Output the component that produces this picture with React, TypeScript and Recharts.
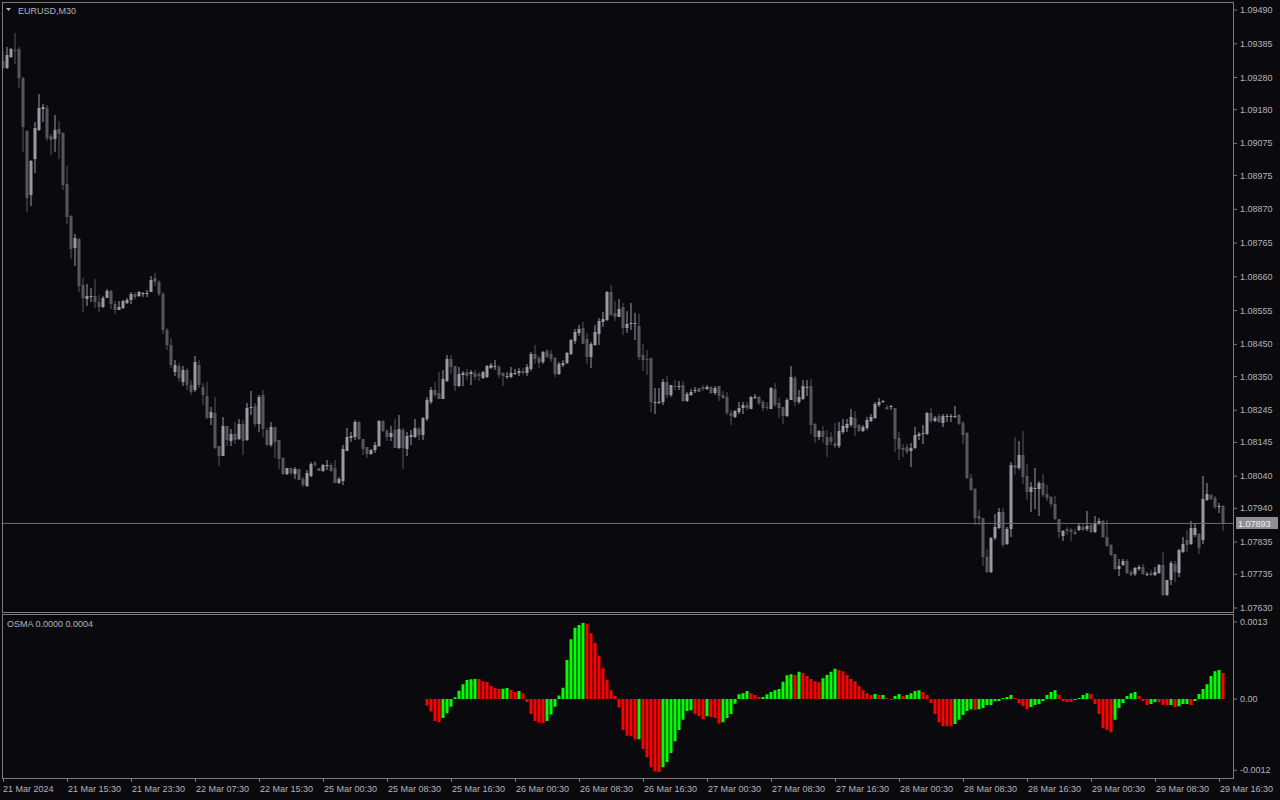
import React from 'react';
import { ComposedChart, Bar, XAxis, YAxis, ReferenceLine, Cell } from 'recharts';

// EURUSD M30, 21 Mar 2024 07:30 .. 29 Mar 2024 17:00 (306 bars)
const opens = [
  1.09332, 1.09310, 1.09344, 1.09366, 1.09369, 1.09278, 1.09114, 1.08914, 1.09027, 1.09117,
  1.09182, 1.09185, 1.09098, 1.09089, 1.09120, 1.09108, 1.08948, 1.08849, 1.08750, 1.08778,
  1.08634, 1.08591, 1.08596, 1.08600, 1.08582, 1.08566, 1.08594, 1.08616, 1.08576, 1.08557,
  1.08563, 1.08579, 1.08588, 1.08607, 1.08600, 1.08608, 1.08608, 1.08613, 1.08656, 1.08644,
  1.08607, 1.08495, 1.08448, 1.08364, 1.08383, 1.08333, 1.08370, 1.08323, 1.08308, 1.08386,
  1.08317, 1.08289, 1.08221, 1.08237, 1.08134, 1.08103, 1.08196, 1.08150, 1.08172, 1.08156,
  1.08203, 1.08153, 1.08255, 1.08258, 1.08203, 1.08292, 1.08184, 1.08138, 1.08193, 1.08153,
  1.08097, 1.08047, 1.08066, 1.08047, 1.08062, 1.08031, 1.08009, 1.08040, 1.08082, 1.08066,
  1.08056, 1.08075, 1.08075, 1.08066, 1.08019, 1.08025, 1.08119, 1.08159, 1.08162, 1.08209,
  1.08156, 1.08131, 1.08109, 1.08122, 1.08134, 1.08212, 1.08181, 1.08162, 1.08184, 1.08128,
  1.08184, 1.08125, 1.08162, 1.08162, 1.08187, 1.08168, 1.08218, 1.08271, 1.08308, 1.08299,
  1.08280, 1.08336, 1.08405, 1.08383, 1.08320, 1.08355, 1.08364, 1.08358, 1.08361, 1.08358,
  1.08345, 1.08348, 1.08377, 1.08381, 1.08380, 1.08361, 1.08351, 1.08348, 1.08360, 1.08361,
  1.08367, 1.08361, 1.08373, 1.08420, 1.08408, 1.08395, 1.08430, 1.08420, 1.08408, 1.08358,
  1.08386, 1.08392, 1.08420, 1.08461, 1.08486, 1.08501, 1.08467, 1.08411, 1.08448, 1.08483,
  1.08520, 1.08526, 1.08613, 1.08548, 1.08535, 1.08566, 1.08501, 1.08514, 1.08515, 1.08508,
  1.08417, 1.08405, 1.08408, 1.08271, 1.08268, 1.08271, 1.08333, 1.08292, 1.08320, 1.08317,
  1.08323, 1.08274, 1.08292, 1.08305, 1.08314, 1.08317, 1.08311, 1.08317, 1.08299, 1.08320,
  1.08292, 1.08286, 1.08237, 1.08224, 1.08240, 1.08252, 1.08262, 1.08249, 1.08283, 1.08286,
  1.08271, 1.08255, 1.08249, 1.08311, 1.08268, 1.08255, 1.08227, 1.08277, 1.08345, 1.08271,
  1.08280, 1.08314, 1.08320, 1.08203, 1.08162, 1.08181, 1.08162, 1.08162, 1.08144, 1.08134,
  1.08178, 1.08190, 1.08199, 1.08221, 1.08199, 1.08181, 1.08190, 1.08212, 1.08221, 1.08262,
  1.08271, 1.08255, 1.08255, 1.08252, 1.08159, 1.08128, 1.08131, 1.08119, 1.08128, 1.08165,
  1.08172, 1.08172, 1.08237, 1.08212, 1.08227, 1.08206, 1.08226, 1.08226, 1.08227, 1.08230,
  1.08206, 1.08175, 1.08034, 1.08000, 1.07916, 1.07910, 1.07789, 1.07742, 1.07848, 1.07879,
  1.07929, 1.07829, 1.07876, 1.08075, 1.08066, 1.08106, 1.08040, 1.07991, 1.08000, 1.08000,
  1.08019, 1.07985, 1.07975, 1.07954, 1.07907, 1.07854, 1.07876, 1.07873, 1.07866, 1.07873,
  1.07882, 1.07876, 1.07888, 1.07866, 1.07891, 1.07901, 1.07851, 1.07826, 1.07798, 1.07751,
  1.07764, 1.07776, 1.07742, 1.07736, 1.07751, 1.07758, 1.07735, 1.07739, 1.07733, 1.07739,
  1.07764, 1.07670, 1.07717, 1.07767, 1.07739, 1.07804, 1.07842, 1.07829, 1.07857, 1.07860,
  1.07842, 1.07966, 1.07982, 1.07972, 1.07944, 1.07947,
];

const highs = [
  1.09363, 1.09375, 1.09372, 1.09419, 1.09375, 1.09281, 1.09117, 1.09024, 1.09142, 1.09229,
  1.09198, 1.09195, 1.09105, 1.09163, 1.09145, 1.09111, 1.09005, 1.08852, 1.08794, 1.08781,
  1.08656, 1.08638, 1.08625, 1.08653, 1.08603, 1.08600, 1.08622, 1.08619, 1.08585, 1.08585,
  1.08588, 1.08594, 1.08613, 1.08613, 1.08616, 1.08613, 1.08619, 1.08662, 1.08672, 1.08650,
  1.08613, 1.08501, 1.08470, 1.08402, 1.08392, 1.08383, 1.08377, 1.08339, 1.08414, 1.08402,
  1.08330, 1.08333, 1.08255, 1.08286, 1.08134, 1.08224, 1.08196, 1.08187, 1.08209, 1.08218,
  1.08215, 1.08268, 1.08305, 1.08268, 1.08292, 1.08308, 1.08190, 1.08209, 1.08193, 1.08153,
  1.08100, 1.08066, 1.08066, 1.08069, 1.08062, 1.08037, 1.08059, 1.08084, 1.08088, 1.08066,
  1.08079, 1.08091, 1.08082, 1.08091, 1.08037, 1.08137, 1.08190, 1.08178, 1.08215, 1.08212,
  1.08156, 1.08131, 1.08125, 1.08147, 1.08215, 1.08215, 1.08187, 1.08196, 1.08218, 1.08230,
  1.08190, 1.08178, 1.08184, 1.08218, 1.08193, 1.08224, 1.08286, 1.08317, 1.08333, 1.08364,
  1.08370, 1.08417, 1.08417, 1.08383, 1.08380, 1.08367, 1.08373, 1.08370, 1.08370, 1.08364,
  1.08367, 1.08386, 1.08392, 1.08402, 1.08386, 1.08364, 1.08364, 1.08380, 1.08373, 1.08377,
  1.08377, 1.08389, 1.08427, 1.08448, 1.08414, 1.08430, 1.08436, 1.08433, 1.08411, 1.08395,
  1.08402, 1.08427, 1.08467, 1.08498, 1.08510, 1.08520, 1.08486, 1.08458, 1.08510, 1.08532,
  1.08551, 1.08616, 1.08634, 1.08585, 1.08591, 1.08579, 1.08554, 1.08579, 1.08548, 1.08545,
  1.08451, 1.08433, 1.08408, 1.08314, 1.08314, 1.08342, 1.08351, 1.08323, 1.08339, 1.08336,
  1.08336, 1.08302, 1.08311, 1.08317, 1.08314, 1.08323, 1.08323, 1.08320, 1.08320, 1.08320,
  1.08305, 1.08302, 1.08246, 1.08246, 1.08271, 1.08271, 1.08271, 1.08289, 1.08295, 1.08289,
  1.08277, 1.08271, 1.08317, 1.08330, 1.08283, 1.08255, 1.08283, 1.08383, 1.08351, 1.08308,
  1.08339, 1.08339, 1.08342, 1.08206, 1.08184, 1.08196, 1.08184, 1.08178, 1.08206, 1.08209,
  1.08218, 1.08218, 1.08249, 1.08243, 1.08203, 1.08199, 1.08224, 1.08234, 1.08271, 1.08283,
  1.08277, 1.08262, 1.08262, 1.08252, 1.08178, 1.08141, 1.08141, 1.08144, 1.08193, 1.08178,
  1.08199, 1.08240, 1.08252, 1.08227, 1.08234, 1.08234, 1.08234, 1.08234, 1.08258, 1.08234,
  1.08212, 1.08178, 1.08047, 1.08003, 1.07935, 1.07910, 1.07814, 1.07851, 1.07922, 1.07941,
  1.07941, 1.07882, 1.08084, 1.08162, 1.08150, 1.08181, 1.08078, 1.08022, 1.08066, 1.08025,
  1.08047, 1.08012, 1.07978, 1.07978, 1.07907, 1.07873, 1.07882, 1.07879, 1.07876, 1.07894,
  1.07891, 1.07932, 1.07891, 1.07916, 1.07910, 1.07904, 1.07904, 1.07829, 1.07798, 1.07783,
  1.07783, 1.07783, 1.07748, 1.07758, 1.07764, 1.07767, 1.07742, 1.07748, 1.07758, 1.07767,
  1.07804, 1.07717, 1.07776, 1.07776, 1.07814, 1.07851, 1.07873, 1.07901, 1.07891, 1.07863,
  1.08040, 1.08019, 1.07985, 1.07978, 1.07957, 1.07950,
];

const lows = [
  1.09307, 1.09307, 1.09341, 1.09323, 1.09247, 1.09049, 1.08862, 1.08880, 1.08983, 1.09114,
  1.09142, 1.09083, 1.09039, 1.09049, 1.09027, 1.08930, 1.08825, 1.08716, 1.08694, 1.08613,
  1.08551, 1.08569, 1.08582, 1.08563, 1.08551, 1.08563, 1.08594, 1.08560, 1.08545, 1.08557,
  1.08560, 1.08576, 1.08576, 1.08591, 1.08597, 1.08597, 1.08597, 1.08613, 1.08631, 1.08600,
  1.08483, 1.08433, 1.08377, 1.08351, 1.08333, 1.08320, 1.08308, 1.08292, 1.08302, 1.08314,
  1.08262, 1.08218, 1.08199, 1.08125, 1.08072, 1.08103, 1.08134, 1.08134, 1.08141, 1.08153,
  1.08106, 1.08150, 1.08230, 1.08193, 1.08178, 1.08162, 1.08134, 1.08131, 1.08097, 1.08062,
  1.08044, 1.08044, 1.08044, 1.08031, 1.08028, 1.08006, 1.08006, 1.08037, 1.08069, 1.08056,
  1.08053, 1.08059, 1.08053, 1.08019, 1.08016, 1.08012, 1.08119, 1.08147, 1.08153, 1.08153,
  1.08106, 1.08097, 1.08106, 1.08112, 1.08131, 1.08178, 1.08150, 1.08150, 1.08128, 1.08125,
  1.08062, 1.08103, 1.08137, 1.08159, 1.08153, 1.08153, 1.08212, 1.08265, 1.08286, 1.08280,
  1.08280, 1.08333, 1.08358, 1.08305, 1.08317, 1.08320, 1.08339, 1.08323, 1.08339, 1.08336,
  1.08342, 1.08345, 1.08373, 1.08370, 1.08345, 1.08320, 1.08342, 1.08345, 1.08355, 1.08351,
  1.08355, 1.08351, 1.08367, 1.08389, 1.08377, 1.08389, 1.08408, 1.08395, 1.08348, 1.08355,
  1.08380, 1.08389, 1.08417, 1.08451, 1.08476, 1.08451, 1.08389, 1.08377, 1.08445, 1.08448,
  1.08504, 1.08523, 1.08538, 1.08523, 1.08535, 1.08480, 1.08486, 1.08495, 1.08464, 1.08402,
  1.08367, 1.08355, 1.08240, 1.08234, 1.08265, 1.08262, 1.08283, 1.08286, 1.08308, 1.08308,
  1.08271, 1.08271, 1.08289, 1.08299, 1.08302, 1.08305, 1.08308, 1.08295, 1.08292, 1.08274,
  1.08280, 1.08230, 1.08199, 1.08221, 1.08234, 1.08234, 1.08246, 1.08249, 1.08280, 1.08262,
  1.08243, 1.08246, 1.08249, 1.08255, 1.08221, 1.08203, 1.08224, 1.08277, 1.08258, 1.08265,
  1.08277, 1.08289, 1.08172, 1.08144, 1.08153, 1.08144, 1.08100, 1.08137, 1.08128, 1.08128,
  1.08172, 1.08178, 1.08193, 1.08165, 1.08178, 1.08178, 1.08184, 1.08209, 1.08218, 1.08255,
  1.08268, 1.08246, 1.08246, 1.08116, 1.08091, 1.08100, 1.08109, 1.08069, 1.08125, 1.08153,
  1.08141, 1.08168, 1.08206, 1.08209, 1.08206, 1.08193, 1.08209, 1.08209, 1.08221, 1.08199,
  1.08141, 1.08031, 1.07994, 1.07888, 1.07888, 1.07761, 1.07739, 1.07739, 1.07842, 1.07876,
  1.07820, 1.07826, 1.07851, 1.08044, 1.08059, 1.08016, 1.07966, 1.07929, 1.07938, 1.07916,
  1.07975, 1.07963, 1.07944, 1.07904, 1.07848, 1.07839, 1.07858, 1.07839, 1.07858, 1.07870,
  1.07870, 1.07870, 1.07863, 1.07863, 1.07888, 1.07848, 1.07820, 1.07792, 1.07748, 1.07729,
  1.07761, 1.07736, 1.07729, 1.07729, 1.07745, 1.07733, 1.07729, 1.07729, 1.07729, 1.07736,
  1.07667, 1.07667, 1.07701, 1.07711, 1.07726, 1.07801, 1.07804, 1.07826, 1.07851, 1.07798,
  1.07829, 1.07963, 1.07966, 1.07938, 1.07926, 1.07870,
];

const closes = [
  1.09310, 1.09350, 1.09369, 1.09363, 1.09278, 1.09126, 1.08905, 1.09021, 1.09123, 1.09185,
  1.09188, 1.09092, 1.09086, 1.09117, 1.09105, 1.08945, 1.08846, 1.08747, 1.08781, 1.08631,
  1.08594, 1.08600, 1.08599, 1.08582, 1.08566, 1.08594, 1.08616, 1.08576, 1.08557, 1.08566,
  1.08585, 1.08588, 1.08607, 1.08597, 1.08613, 1.08610, 1.08610, 1.08650, 1.08644, 1.08607,
  1.08495, 1.08448, 1.08386, 1.08386, 1.08345, 1.08370, 1.08323, 1.08302, 1.08395, 1.08323,
  1.08292, 1.08221, 1.08240, 1.08128, 1.08103, 1.08196, 1.08153, 1.08172, 1.08153, 1.08203,
  1.08150, 1.08252, 1.08256, 1.08203, 1.08286, 1.08187, 1.08138, 1.08193, 1.08147, 1.08094,
  1.08047, 1.08066, 1.08050, 1.08062, 1.08028, 1.08012, 1.08050, 1.08079, 1.08075, 1.08056,
  1.08075, 1.08076, 1.08056, 1.08019, 1.08031, 1.08125, 1.08162, 1.08165, 1.08209, 1.08156,
  1.08125, 1.08109, 1.08122, 1.08137, 1.08212, 1.08181, 1.08162, 1.08175, 1.08128, 1.08187,
  1.08128, 1.08165, 1.08168, 1.08190, 1.08168, 1.08221, 1.08277, 1.08308, 1.08292, 1.08280,
  1.08342, 1.08405, 1.08380, 1.08320, 1.08358, 1.08361, 1.08351, 1.08364, 1.08348, 1.08351,
  1.08364, 1.08383, 1.08386, 1.08383, 1.08355, 1.08351, 1.08352, 1.08361, 1.08362, 1.08367,
  1.08361, 1.08380, 1.08420, 1.08405, 1.08392, 1.08427, 1.08411, 1.08405, 1.08358, 1.08389,
  1.08392, 1.08423, 1.08464, 1.08489, 1.08498, 1.08451, 1.08411, 1.08451, 1.08489, 1.08523,
  1.08529, 1.08613, 1.08541, 1.08535, 1.08560, 1.08501, 1.08514, 1.08517, 1.08517, 1.08411,
  1.08402, 1.08403, 1.08271, 1.08272, 1.08271, 1.08333, 1.08292, 1.08323, 1.08317, 1.08320,
  1.08274, 1.08295, 1.08302, 1.08308, 1.08302, 1.08311, 1.08317, 1.08299, 1.08314, 1.08289,
  1.08283, 1.08237, 1.08227, 1.08243, 1.08252, 1.08262, 1.08252, 1.08286, 1.08286, 1.08268,
  1.08252, 1.08252, 1.08314, 1.08262, 1.08252, 1.08227, 1.08277, 1.08348, 1.08271, 1.08286,
  1.08320, 1.08317, 1.08199, 1.08162, 1.08181, 1.08162, 1.08137, 1.08147, 1.08134, 1.08181,
  1.08196, 1.08203, 1.08224, 1.08190, 1.08181, 1.08193, 1.08215, 1.08224, 1.08265, 1.08271,
  1.08274, 1.08249, 1.08257, 1.08156, 1.08125, 1.08122, 1.08116, 1.08128, 1.08168, 1.08172,
  1.08175, 1.08237, 1.08212, 1.08221, 1.08209, 1.08227, 1.08227, 1.08227, 1.08228, 1.08203,
  1.08168, 1.08034, 1.07997, 1.07910, 1.07907, 1.07789, 1.07742, 1.07848, 1.07882, 1.07929,
  1.07826, 1.07876, 1.08075, 1.08066, 1.08106, 1.08037, 1.07991, 1.08006, 1.08003, 1.08019,
  1.07982, 1.07972, 1.07954, 1.07907, 1.07866, 1.07870, 1.07870, 1.07866, 1.07860, 1.07885,
  1.07873, 1.07885, 1.07866, 1.07894, 1.07901, 1.07851, 1.07823, 1.07795, 1.07751, 1.07761,
  1.07776, 1.07739, 1.07733, 1.07755, 1.07758, 1.07736, 1.07736, 1.07733, 1.07742, 1.07764,
  1.07670, 1.07717, 1.07770, 1.07742, 1.07811, 1.07829, 1.07826, 1.07879, 1.07879, 1.07817,
  1.07969, 1.07985, 1.07969, 1.07944, 1.07947, 1.07893,
];

// OsMA histogram, first value on bar 106
const osmaFirstBar = 106;
const osmaValues = [
  -0.00011, -0.00021, -0.00037, -0.00039, -0.00032, -0.00024, -0.00013, 0.00003, 0.00014, 0.00025,
  0.00032, 0.000335, 0.00034, 0.000338, 0.0003, 0.000287, 0.00022, 0.000186, 0.00017, 0.000172,
  0.000186, 0.000152, 0.000118, 0.000135, 0.0001, -0.00005, -0.00025, -0.00037, -0.0004, -0.000402,
  -0.00037, -0.00026, -0.00013, 0.00006, 0.00019, 0.00066, 0.00101, 0.0012, 0.00125, 0.00128,
  0.00127, 0.00111, 0.00095, 0.00073, 0.00052, 0.00032, 0.00015, 0.00005, -0.00014, -0.00052,
  -0.00062, -0.000625, -0.00068, -0.000678, -0.00084, -0.00098, -0.00115, -0.00122, -0.00123, -0.00115,
  -0.00106, -0.00091, -0.00071, -0.00052, -0.00035, -0.0002, -0.00019, -0.00025, -0.00029, -0.00034,
  -0.00029, -0.0003, -0.00032, -0.00041, -0.00039, -0.00032, -0.00025, -0.00008, 0.00008, 0.0001,
  0.000135, 0.0001, 0.00007, 0.000034, 0.000035, 0.00008, 0.00012, 0.00015, 0.00017, 0.00029,
  0.0004, 0.00042, 0.000405, 0.00046, 0.00044, 0.00039, 0.00034, 0.0003, 0.000287, 0.00035,
  0.000405, 0.00046, 0.00051, 0.00049, 0.00047, 0.000405, 0.00034, 0.0003, 0.00022, 0.00015,
  0.0001, 0.00007, 0.000084, 0.000068, 0.00007, 0.000017, -0.000017, 0.00005, 0.000084, 0.00005,
  0.000068, 0.0001, 0.000135, 0.00015, 0.00012, 0.000068, -0.000068, -0.00025, -0.00039, -0.000456,
  -0.000458, -0.00046, -0.00042, -0.00035, -0.00027, -0.0002, -0.00017, -0.000186, -0.00017, -0.00015,
  -0.0001, -0.000098, -0.000034, -0.000033, 0.000017, 0.000034, 0.000068, 0.000017, -0.000068, -0.00012,
  -0.00017, -0.000135, -0.0001, -0.000084, -0.000034, 0.000068, 0.00012, 0.00015, 0.000068, -0.000034,
  -0.00005, -0.000051, -0.000017, 0.000017, 0.000068, 0.0001, 0.000084, -0.000084, -0.00025, -0.00049,
  -0.00052, -0.00056, -0.00035, -0.00015, -0.000068, 0.00005, 0.0001, 0.00012, 0.00005, -0.000034,
  -0.0001, -0.000084, -0.00005, -0.000052, -0.0001, -0.000102, -0.0001, -0.000135, -0.00012, -0.000084,
  -0.000083, -0.0001, -0.000034, 0.000084, 0.00017, 0.00025, 0.00039, 0.00047, 0.00049, 0.00044,
];

const priceTicks = [
  1.0949, 1.09385, 1.0928, 1.0918, 1.09075, 1.08975, 1.0887, 1.08765, 1.0866, 1.08555,
  1.0845, 1.0835, 1.08245, 1.08145, 1.0804, 1.0794, 1.07835, 1.07735, 1.0763,
];
const osmaTicks = [0.0013, 0, -0.0012];
const osmaTickLabels = ['0.0013', '0.00', '-0.0012'];

const timeLabelStep = 16;
const timeLabels = [
  '21 Mar 2024', '21 Mar 15:30', '21 Mar 23:30', '22 Mar 07:30', '22 Mar 15:30',
  '25 Mar 00:30', '25 Mar 08:30', '25 Mar 16:30', '26 Mar 00:30', '26 Mar 08:30',
  '26 Mar 16:30', '27 Mar 00:30', '27 Mar 08:30', '27 Mar 16:30', '28 Mar 00:30',
  '28 Mar 08:30', '28 Mar 16:30', '29 Mar 00:30', '29 Mar 08:30', '29 Mar 16:30',
];

const bidPrice = 1.07893;
const symbolTitle = 'EURUSD,M30';
const osmaTitle = 'OSMA 0.0000 0.0004';

const BG = '#0a0a0e';
const FRAME = '#7c7c80';
const TEXT = '#b2b4bc';
const BULL = '#9a9aa6';
const BEAR = '#56565c';
const UP = '#00ff00';
const DOWN = '#ff0000';
const FONT = '"Liberation Sans", Arial, sans-serif';

const X_DOMAIN: [number, number] = [-0.5, 307.375];

const candles = opens.map((o, i) => ({
  i,
  open: o,
  high: highs[i],
  low: lows[i],
  close: closes[i],
  range: [lows[i], highs[i]],
}));

const osmaData = osmaValues.map((v, k) => ({ i: osmaFirstBar + k, osma: v }));
const timeTicks = timeLabels.map((_, k) => k * timeLabelStep);

function Candle(props: any) {
  const { x, y, width, height, payload } = props;
  if (x == null || !payload) return null;
  const { open, close, high, low } = payload;
  const color = close >= open ? BULL : BEAR;
  const k = high > low ? height / (high - low) : 0;
  const cx = x + width / 2;
  const top = Math.round(y + (high - Math.max(open, close)) * k);
  const bot = Math.round(y + (high - Math.min(open, close)) * k);
  return (
    <g>
      <rect x={cx - 0.5} y={Math.round(y)} width={1} height={Math.max(1, Math.round(height))} fill={color} />
      <rect x={cx - 1.5} y={top} width={3} height={Math.max(1, bot - top)} fill={color} />
    </g>
  );
}

function PriceTick(props: any) {
  const { x, y, payload } = props;
  return (
    <text x={x} y={y} dy={3} fill={TEXT} fontSize={9} fontFamily={FONT}>
      {Number(payload.value).toFixed(5)}
    </text>
  );
}

function OsmaTick(props: any) {
  const { x, y, index } = props;
  return (
    <text x={x} y={y} dy={3} fill={TEXT} fontSize={9} fontFamily={FONT}>
      {osmaTickLabels[index]}
    </text>
  );
}

function TimeTick(props: any) {
  const { x, y, index } = props;
  return (
    <g>
      <line x1={x} x2={x} y1={y} y2={y + 4} stroke={FRAME} />
      <text x={index === 0 ? 3 : x + 0.5} y={y + 14} fill={TEXT} fontSize={9} fontFamily={FONT}>
        {timeLabels[index]}
      </text>
    </g>
  );
}

function BidLabel(props: any) {
  const { viewBox } = props;
  if (!viewBox) return null;
  const x = viewBox.x + viewBox.width;
  const y = Math.round(viewBox.y);
  return (
    <g>
      <rect x={x + 3} y={y - 6} width={42} height={12} fill="#8e8e92" />
      <text x={x + 5} y={y + 3.5} fill="#f0f0f0" fontSize={9} fontFamily={FONT}>
        {bidPrice.toFixed(5)}
      </text>
    </g>
  );
}

export default function App() {
  return (
    <div style={{ position: 'absolute', left: 0, top: 0, width: 1280, height: 800, background: BG, overflow: 'hidden' }}>
      <div style={{ position: 'absolute', left: 0, top: 0 }}>
        <ComposedChart width={1280} height={612} data={candles} margin={{ top: 10, right: 0, bottom: 4, left: 1.5 }}>
          <XAxis dataKey="i" type="number" domain={X_DOMAIN} allowDataOverflow hide />
          <YAxis
            orientation="right"
            width={47}
            domain={[1.0763, 1.0949]}
            allowDataOverflow
            ticks={priceTicks}
            interval={0}
            axisLine={false}
            tickLine={{ stroke: FRAME }}
            tickSize={4}
            tickMargin={3}
            tick={<PriceTick />}
          />
          <ReferenceLine y={bidPrice} stroke="#6a6a70" label={<BidLabel />} />
          <Bar dataKey="range" barSize={3} shape={<Candle />} isAnimationActive={false} />
        </ComposedChart>
      </div>
      <div style={{ position: 'absolute', left: 0, top: 614 }}>
        <ComposedChart width={1280} height={186} data={osmaData} margin={{ top: 2, right: 0, bottom: 0, left: 1.5 }}>
          <XAxis
            dataKey="i"
            type="number"
            domain={X_DOMAIN}
            allowDataOverflow
            ticks={timeTicks}
            interval={0}
            height={22}
            axisLine={false}
            tickLine={false}
            tickSize={0}
            tickMargin={0}
            tick={<TimeTick />}
          />
          <YAxis
            orientation="right"
            width={47}
            domain={[-0.00133, 0.0014]}
            allowDataOverflow
            ticks={osmaTicks}
            interval={0}
            axisLine={false}
            tickLine={{ stroke: FRAME }}
            tickSize={4}
            tickMargin={3}
            tick={<OsmaTick />}
          />
          <Bar dataKey="osma" barSize={3} isAnimationActive={false}>
            {osmaData.map((d, k) => (
              <Cell key={d.i} fill={k > 0 && d.osma > osmaData[k - 1].osma ? UP : DOWN} />
            ))}
          </Bar>
        </ComposedChart>
      </div>
      <svg width={1280} height={800} style={{ position: 'absolute', left: 0, top: 0, pointerEvents: 'none' }}>
        <rect x={2.5} y={2.5} width={1231} height={610} fill="none" stroke={FRAME} />
        <rect x={2.5} y={614.5} width={1231} height={164} fill="none" stroke={FRAME} />
        <polygon points="6,8 11,8 8.5,11" fill={TEXT} />
        <text x={18} y={14} fill={TEXT} fontSize={9} fontFamily={FONT}>{symbolTitle}</text>
        <text x={7} y={627} fill={TEXT} fontSize={9} fontFamily={FONT}>{osmaTitle}</text>
      </svg>
    </div>
  );
}
